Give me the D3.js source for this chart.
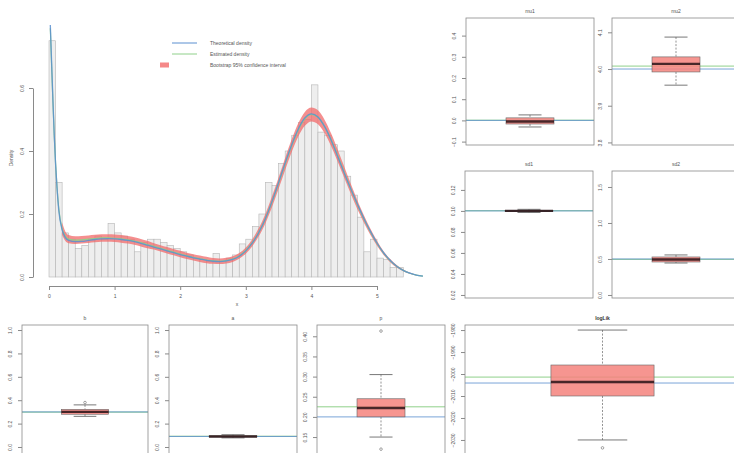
<!DOCTYPE html>
<html><head><meta charset="utf-8">
<script src="https://cdn.jsdelivr.net/npm/d3@7/dist/d3.min.js"></script>
<style>body{margin:0;background:#fff}svg{display:block;font-family:"Liberation Sans",Arial,sans-serif}</style>
</head><body><svg id="c" width="734" height="453"></svg>
<script>
// ---------- data: histogram ----------
const binStarts = [0.0,0.1,0.2,0.3,0.4,0.5,0.6,0.7,0.8,0.9,1.0,1.1,1.2,1.3,1.4,1.5,1.6,1.7,1.8,1.9,2.0,2.1,2.2,2.3,2.4,2.5,2.6,2.7,2.8,2.9,3.0,3.1,3.2,3.3,3.4,3.5,3.6,3.7,3.8,3.9,4.0,4.1,4.2,4.3,4.4,4.5,4.6,4.7,4.8,4.9,5.0,5.1,5.2,5.3];
const binDensity = [0.75,0.30,0.14,0.12,0.09,0.10,0.12,0.13,0.12,0.17,0.14,0.13,0.12,0.08,0.11,0.12,0.12,0.11,0.10,0.09,0.08,0.07,0.06,0.055,0.05,0.075,0.05,0.06,0.07,0.105,0.12,0.16,0.20,0.30,0.29,0.36,0.40,0.45,0.49,0.50,0.61,0.46,0.45,0.42,0.40,0.32,0.26,0.19,0.08,0.12,0.06,0.055,0.03,0.03];
const binWidth = 0.1;
// ---------- data: density curves ----------
const curveX = [0.02,0.04,0.06,0.08,0.10,0.12,0.15,0.20,0.25,0.30,0.40,0.50,0.60,0.70,0.80,0.90,1.00,1.10,1.20,1.30,1.40,1.50,1.60,1.70,1.80,1.90,2.00,2.10,2.20,2.30,2.40,2.50,2.60,2.70,2.80,2.90,3.00,3.10,3.20,3.30,3.40,3.50,3.60,3.70,3.80,3.90,4.00,4.10,4.20,4.30,4.40,4.50,4.60,4.70,4.80,4.90,5.00,5.10,5.20,5.30,5.40,5.50,5.60,5.70];
const theoDensity = [0.80,0.68,0.56,0.45,0.36,0.29,0.21,0.150,0.125,0.116,0.112,0.113,0.116,0.119,0.121,0.122,0.121,0.119,0.116,0.112,0.107,0.101,0.095,0.089,0.083,0.077,0.071,0.066,0.061,0.057,0.053,0.050,0.049,0.051,0.056,0.066,0.083,0.108,0.142,0.186,0.240,0.300,0.362,0.420,0.470,0.505,0.518,0.508,0.478,0.435,0.383,0.330,0.280,0.232,0.186,0.145,0.108,0.077,0.053,0.034,0.021,0.012,0.006,0.003];
const estDensity = [0.79,0.67,0.555,0.45,0.362,0.292,0.215,0.153,0.129,0.120,0.117,0.118,0.120,0.122,0.124,0.124,0.123,0.121,0.118,0.114,0.109,0.103,0.097,0.091,0.085,0.079,0.073,0.067,0.062,0.058,0.054,0.051,0.050,0.052,0.057,0.067,0.084,0.109,0.143,0.186,0.239,0.298,0.359,0.417,0.467,0.502,0.516,0.507,0.478,0.436,0.386,0.333,0.280,0.230,0.184,0.143,0.107,0.076,0.052,0.034,0.021,0.012,0.006,0.003];
const bandX = [0.20,0.25,0.30,0.40,0.50,0.60,0.70,0.80,0.90,1.00,1.10,1.20,1.30,1.40,1.50,1.60,1.70,1.80,1.90,2.00,2.10,2.20,2.30,2.40,2.50,2.60,2.70,2.80,2.90,3.00,3.10,3.20,3.30,3.40,3.50,3.60,3.70,3.80,3.90,4.00,4.10,4.20,4.30,4.40,4.50,4.60,4.70,4.80,4.90,5.00,5.10,5.20,5.30,5.40,5.50,5.60];
const ciLower = [0.133,0.114,0.107,0.105,0.106,0.108,0.110,0.112,0.112,0.111,0.109,0.106,0.102,0.097,0.091,0.087,0.081,0.075,0.069,0.063,0.057,0.052,0.048,0.044,0.042,0.041,0.043,0.048,0.058,0.074,0.098,0.130,0.171,0.222,0.280,0.340,0.397,0.446,0.480,0.494,0.485,0.457,0.416,0.367,0.315,0.264,0.216,0.172,0.133,0.099,0.070,0.047,0.030,0.018,0.010,0.005];
const ciUpper = [0.173,0.144,0.133,0.129,0.130,0.132,0.134,0.136,0.136,0.135,0.133,0.130,0.126,0.121,0.115,0.107,0.101,0.095,0.089,0.083,0.077,0.072,0.068,0.064,0.060,0.059,0.061,0.066,0.076,0.094,0.120,0.156,0.201,0.256,0.316,0.378,0.437,0.488,0.524,0.538,0.529,0.499,0.456,0.405,0.351,0.296,0.244,0.196,0.153,0.115,0.082,0.057,0.038,0.024,0.014,0.007];
const densityTicks = [0.0,0.2,0.4,0.6];
const xTicks = [0,1,2,3,4,5];
const legendLabels = ["Theoretical density","Estimated density","Bootstrap 95% confidence interval"];
// ---------- data: bootstrap parameter boxplots ----------
const paramNames = ["mu1","mu2","sd1","sd2","b","a","p","logLik"];
const paramTicks = [
  [-0.1,0.0,0.1,0.2,0.3,0.4],
  [3.8,3.9,4.0,4.1],
  [0.02,0.04,0.06,0.08,0.10,0.12],
  [0.0,0.5,1.0,1.5],
  [0.0,0.2,0.4,0.6,0.8,1.0],
  [0.0,0.2,0.4,0.6,0.8,1.0],
  [0.15,0.20,0.25,0.30,0.35,0.40],
  [-2030,-2020,-2010,-2000,-1990,-1980]
];
// [lower whisker, Q1, median, Q3, upper whisker]
const boxStats = [
  [-0.031,-0.017,-0.005,0.012,0.026],
  [3.956,3.992,4.014,4.033,4.087],
  [0.0985,0.0995,0.1000,0.1005,0.1015],
  [0.444,0.458,0.493,0.528,0.556],
  [0.262,0.280,0.300,0.322,0.360],
  [0.078,0.086,0.090,0.095,0.105],
  [0.150,0.200,0.222,0.245,0.305],
  [-2030,-2010,-2003.6,-1995.9,-1980]
];
const outliers = [[],[],[],[],[0.38],[],[0.413,0.12],[-2033.6]];
const trueValues = [0.0,4.0,0.10,0.5,0.30,0.09,0.20,-2004.1];
const estValues = [0.001,4.008,0.1002,0.495,0.298,0.092,0.225,-2001.4];

// ---------- layout ----------
const svg = d3.select("#c");
const C_THEO = "#5b8fd0", C_EST = "#8fd08a", C_BAND = "#f26a6a", C_BOX = "#f4837d";
const AX = "#8a8a8a", TXT = "#555";

// main histogram
const x = d3.scaleLinear([0,5],[49,377]);
const y = d3.scaleLinear([0,0.6],[277,88]);
const g = svg.append("g");
g.selectAll("rect.bar").data(binStarts).join("rect").attr("class","bar")
  .attr("x",(d)=>x(d)).attr("width",(d)=>x(d+binWidth)-x(d))
  .attr("y",(d,i)=>y(binDensity[i])).attr("height",(d,i)=>y(0)-y(binDensity[i]))
  .attr("fill","#eeeeee").attr("stroke","#b5b5b5").attr("stroke-width",0.6);

const band = d3.area().x((d,i)=>x(bandX[i])).y0((d,i)=>y(ciLower[i])).y1((d,i)=>y(ciUpper[i])).curve(d3.curveMonotoneX);
g.append("path").attr("d",band(bandX)).attr("fill",C_BAND).attr("opacity",0.75);
const lineEst = d3.line().x((d,i)=>x(curveX[i])).y((d,i)=>y(estDensity[i])).curve(d3.curveMonotoneX);
const lineTheo = d3.line().x((d,i)=>x(curveX[i])).y((d,i)=>y(theoDensity[i])).curve(d3.curveMonotoneX);
g.append("path").attr("d",lineEst(curveX)).attr("fill","none").attr("stroke",C_EST).attr("stroke-width",1.2);
g.append("path").attr("d",lineTheo(curveX)).attr("fill","none").attr("stroke",C_THEO).attr("stroke-width",1.3).attr("opacity",0.85);

function styleAxis(sel){
  sel.select(".domain").attr("stroke",AX);
  sel.selectAll(".tick line").attr("stroke",AX);
  sel.selectAll("text").attr("fill",TXT).attr("font-size",5);
}
const xa = g.append("g").attr("transform","translate(0,286)")
  .call(d3.axisBottom(x).tickValues(xTicks).tickSize(4).tickSizeOuter(0).tickPadding(4).tickFormat(d3.format("d")));
styleAxis(xa); xa.attr("font-family",null);
const ya = g.append("g").attr("transform","translate(33,0)")
  .call(d3.axisLeft(y).tickValues(densityTicks).tickSize(4).tickSizeOuter(0).tickFormat(d3.format(".1f")));
styleAxis(ya); ya.attr("font-family",null);
ya.selectAll("text").attr("x",null).attr("dy",null).attr("text-anchor","middle").attr("transform","translate(-9,0) rotate(-90)");
g.append("text").attr("x",237).attr("y",306).attr("text-anchor","middle").attr("font-size",5).attr("fill",TXT).text("x");
g.append("text").attr("transform","translate(13,158) rotate(-90)").attr("text-anchor","middle").attr("font-size",5).attr("fill",TXT).text("Density");

// legend
const lg = g.append("g");
legendLabels.forEach((t,i)=>{
  const ly = 43 + i*11;
  if(i<2) lg.append("line").attr("x1",172).attr("x2",197).attr("y1",ly).attr("y2",ly).attr("stroke",i===0?C_THEO:C_EST).attr("stroke-width",1);
  else lg.append("rect").attr("x",160).attr("y",ly-2.5).attr("width",9).attr("height",5).attr("fill",C_BAND).attr("opacity",0.8);
  lg.append("text").attr("x",210).attr("y",ly+1.7).attr("font-size",5).attr("fill",TXT).text(t);
});

// boxplot panels
const frames = [
  [466,594,18,145],[612,740,18,145],
  [465,593,171,298],[612,740,171,298],
  [22,148,325,456],[169,297,325,456],[317,445,325,456],[465,740,325,456]
];
const domains = [[-0.116,0.483],[3.793,4.139],[0.0171,0.138],[-0.042,1.722],[-0.077,1.043],[-0.077,1.043],[0.103,0.428],[-2037.3,-1977.7]];
paramNames.forEach((name,k)=>{
  const [x0,x1,y0,y1] = frames[k];
  const ys = d3.scaleLinear(domains[k],[y1,y0]);
  const pg = svg.append("g");
  const cx = (x0+x1)/2, w = x1-x0, bw = w*0.375, cw = w*0.18;
  const [lo,q1,md,q3,hi] = boxStats[k];
  pg.append("line").attr("x1",x0).attr("x2",x1).attr("y1",ys(estValues[k])).attr("y2",ys(estValues[k])).attr("stroke",C_EST).attr("stroke-width",1);
  pg.append("line").attr("x1",x0).attr("x2",x1).attr("y1",ys(trueValues[k])).attr("y2",ys(trueValues[k])).attr("stroke",C_THEO).attr("stroke-width",1).attr("opacity",0.8);
  pg.append("line").attr("x1",cx).attr("x2",cx).attr("y1",ys(hi)).attr("y2",ys(q3)).attr("stroke","#666").attr("stroke-width",0.7).attr("stroke-dasharray","2,1.5");
  pg.append("line").attr("x1",cx).attr("x2",cx).attr("y1",ys(q1)).attr("y2",ys(lo)).attr("stroke","#666").attr("stroke-width",0.7).attr("stroke-dasharray","2,1.5");
  [lo,hi].forEach(v=>pg.append("line").attr("x1",cx-cw/2).attr("x2",cx+cw/2).attr("y1",ys(v)).attr("y2",ys(v)).attr("stroke","#555").attr("stroke-width",0.8));
  pg.append("rect").attr("x",cx-bw/2).attr("width",bw).attr("y",ys(q3)).attr("height",Math.max(0.8,ys(q1)-ys(q3)))
    .attr("fill",C_BOX).attr("fill-opacity",0.85).attr("stroke","#666").attr("stroke-width",0.6);
  pg.append("line").attr("x1",cx-bw/2).attr("x2",cx+bw/2).attr("y1",ys(md)).attr("y2",ys(md)).attr("stroke","#2a1418").attr("stroke-width",2.4).attr("opacity",0.85);
  outliers[k].forEach(v=>pg.append("circle").attr("cx",cx).attr("cy",ys(v)).attr("r",1.3).attr("fill","none").attr("stroke","#666").attr("stroke-width",0.6));
  pg.append("rect").attr("x",x0).attr("y",y0).attr("width",x1-x0).attr("height",y1-y0).attr("fill","none").attr("stroke","#8a8a8a").attr("stroke-width",0.8);
  const ax = pg.append("g").attr("transform",`translate(${x0},0)`)
    .call(d3.axisLeft(ys).tickValues(paramTicks[k]).tickSize(4).tickSizeOuter(0).tickFormat(d=>d3.format(Math.abs(d)>=100?"d":(paramTicks[k].some(t=>Math.round(t*10)!==t*10)?".2f":".1f"))(d)));
  styleAxis(ax); ax.attr("font-family",null);
  ax.select(".domain").remove();
  ax.selectAll("text").attr("x",null).attr("dy",null).attr("text-anchor","middle").attr("transform","translate(-10,0) rotate(-90)");
  pg.append("text").attr("x",cx).attr("y",y0-5).attr("text-anchor","middle").attr("font-size",5)
    .attr("font-weight",name==="logLik"?"bold":"normal").attr("fill",name==="logLik"?"#333":TXT).text(name);
});
</script></body></html>
